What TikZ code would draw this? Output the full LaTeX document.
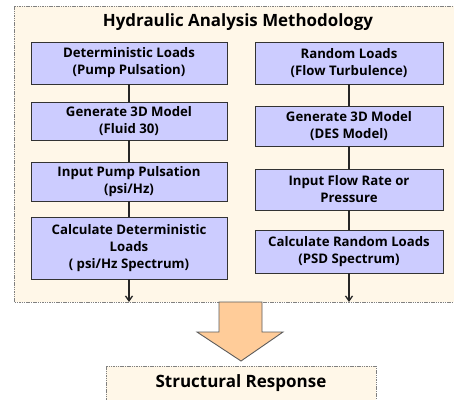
\documentclass[tikz,border=0pt]{standalone}
\usepackage{fontspec}
\setmainfont{Open Sans}
\usetikzlibrary{arrows.meta}
\definecolor{cream}{HTML}{FFF7E8}
\definecolor{lav}{HTML}{CCCCFF}
\definecolor{peach}{HTML}{FFCC99}
\definecolor{edge}{HTML}{333333}
\tikzset{
  x=1pt, y=-1pt,
  stepbox/.style={draw=edge, line width=0.9pt, fill=lav, inner sep=0pt, align=center,
    font=\bfseries\fontsize{13.2}{17}\selectfont},
  lbox/.style={stepbox, minimum width=196pt},
  rbox/.style={stepbox, minimum width=188pt},
  link/.style={draw=black!85, line width=1.3pt},
  outlink/.style={link, -{Straight Barb[length=5pt,width=7pt]}},
  frame/.style={draw=gray, line width=0.8pt, dash pattern=on 1.5pt off 0.8pt, fill=cream},
}
\begin{document}
\begin{tikzpicture}
\useasboundingbox (0,0) rectangle (454,399);
\fill[white] (0,0) rectangle (454,399);
\draw[frame] (14,6) rectangle (470,302);
\node[font=\bfseries\fontsize{16.9}{20}\selectfont] (title) at (238,22) {Hydraulic Analysis Methodology};

\node[lbox, minimum height=42pt] (l1) at (129,63) {Deterministic Loads\\(Pump Pulsation)};
\node[lbox, minimum height=38pt] (l2) at (129,121) {Generate 3D Model\\(Fluid 30)};
\node[lbox, minimum height=39pt] (l3) at (129,181.5) {Input Pump Pulsation\\(psi/Hz)};
\node[lbox, minimum height=62pt] (l4) at (129,248) {Calculate Deterministic\\Loads\\( psi/Hz Spectrum)};

\node[rbox, minimum height=42pt] (r1) at (349,63) {Random Loads\\(Flow Turbulence)};
\node[rbox, minimum height=40pt] (r2) at (349,126) {Generate 3D Model\\(DES Model)};
\node[rbox, minimum height=41pt] (r3) at (349,189.5) {Input Flow Rate or\\Pressure};
\node[rbox, minimum height=43pt] (r4) at (349,251.5) {Calculate Random Loads\\(PSD Spectrum)};

\draw[link] (l1) -- (l2);
\draw[link] (l2) -- (l3);
\draw[link] (l3) -- (l4);
\draw[link] (r1) -- (r2);
\draw[link] (r2) -- (r3);
\draw[link] (r3) -- (r4);
\coordinate (le) at (129,302);
\coordinate (re) at (349,302);
\draw[outlink] (l4) -- (le);
\draw[outlink] (r4) -- (re);

\draw[draw=edge!80, line width=0.9pt, fill=peach, line join=miter]
  (219,302) -- (262,302) -- (262,332) -- (283,332) -- (241,361) -- (197,332) -- (219,332) -- cycle;

\draw[frame] (106,366) rectangle (376,412);
\node[font=\bfseries\fontsize{17}{20}\selectfont] (resp) at (241,383) {Structural Response};
\end{tikzpicture}
\end{document}
